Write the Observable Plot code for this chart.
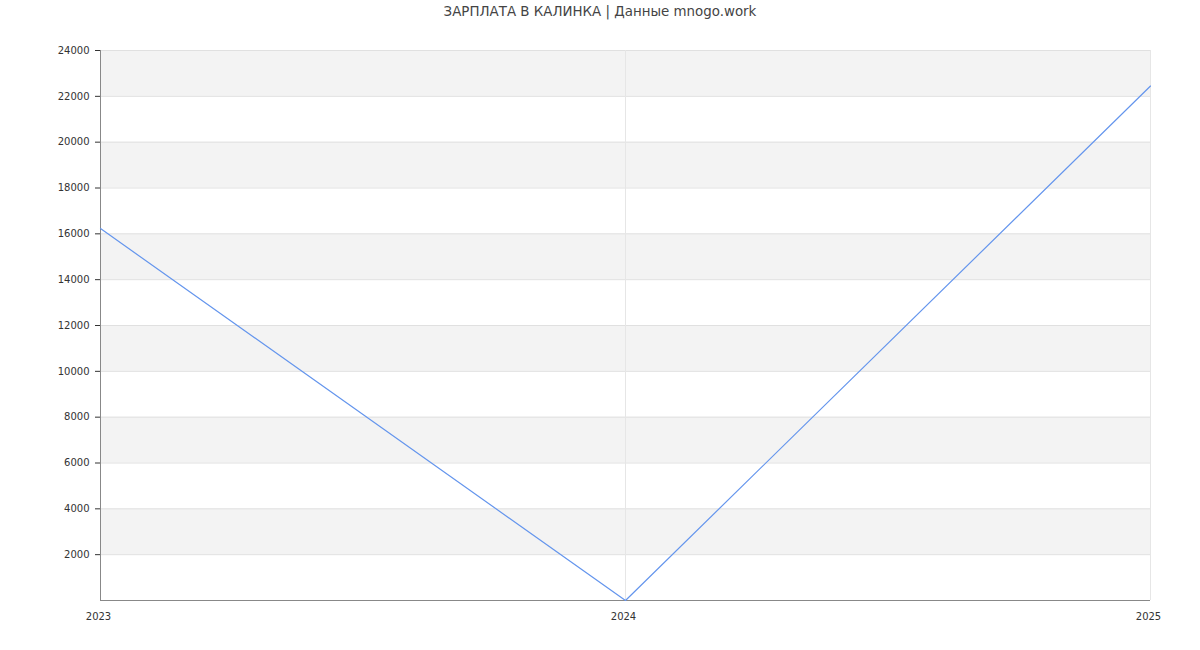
<!DOCTYPE html>
<html>
<head>
<meta charset="utf-8">
<script src="https://cdn.jsdelivr.net/npm/d3@7"></script>
<script src="https://cdn.jsdelivr.net/npm/@observablehq/plot@0.6"></script>
<style>
  body { margin: 0; background: #fff; font-family: "DejaVu Sans", sans-serif; }
  #title { height: 25px; line-height: 24px; text-align: center; font-size: 13.4px; color: #444; }
</style>
</head>
<body>
<div id="title">ЗАРПЛАТА В КАЛИНКА | Данные mnogo.work</div>
<div id="chart"></div>
<script>
const years = [2023, 2024, 2025];
const salaries = [16230, 0, 22450];
const yTicks = [2000, 4000, 6000, 8000, 10000, 12000, 14000, 16000, 18000, 20000, 22000, 24000];
const bandStarts = [2000, 6000, 10000, 14000, 18000, 22000];

const data = years.map((y, i) => ({year: y, value: salaries[i]}));
const bands = bandStarts.map(s => ({y1: s, y2: s + 2000}));

const chart = Plot.plot({
  width: 1200,
  height: 625,
  marginTop: 25,
  marginBottom: 50,
  marginLeft: 100,
  marginRight: 50,
  style: {fontFamily: "DejaVu Sans, sans-serif", fontSize: "10px", color: "#333", background: "#fff"},
  x: {domain: [2023, 2025], label: null, axis: null},
  y: {domain: [0, 24000], ticks: yTicks, tickFormat: d => String(d), tickSize: 5, tickPadding: 6, label: null},
  marks: [
    Plot.rect(bands, {y1: "y1", y2: "y2", fill: "#f3f3f3"}),
    Plot.ruleY(yTicks, {stroke: "#e0e0e0", strokeWidth: 1}),
    Plot.ruleX([2024, 2025], {stroke: "#e6e6e6", strokeWidth: 1}),
    Plot.ruleX([2023], {stroke: "#888", strokeWidth: 1}),
    Plot.ruleY([0], {stroke: "#888", strokeWidth: 1}),
    Plot.line(data, {x: "year", y: "value", stroke: "#6495ed", strokeWidth: 1.2}),
    Plot.axisX({ticks: years, tickFormat: d => String(d), tickSize: 0, tickPadding: 12, dx: -2, label: null, fontSize: 10, fill: "#333"})
  ]
});
document.getElementById("chart").appendChild(chart);
</script>
</body>
</html>
